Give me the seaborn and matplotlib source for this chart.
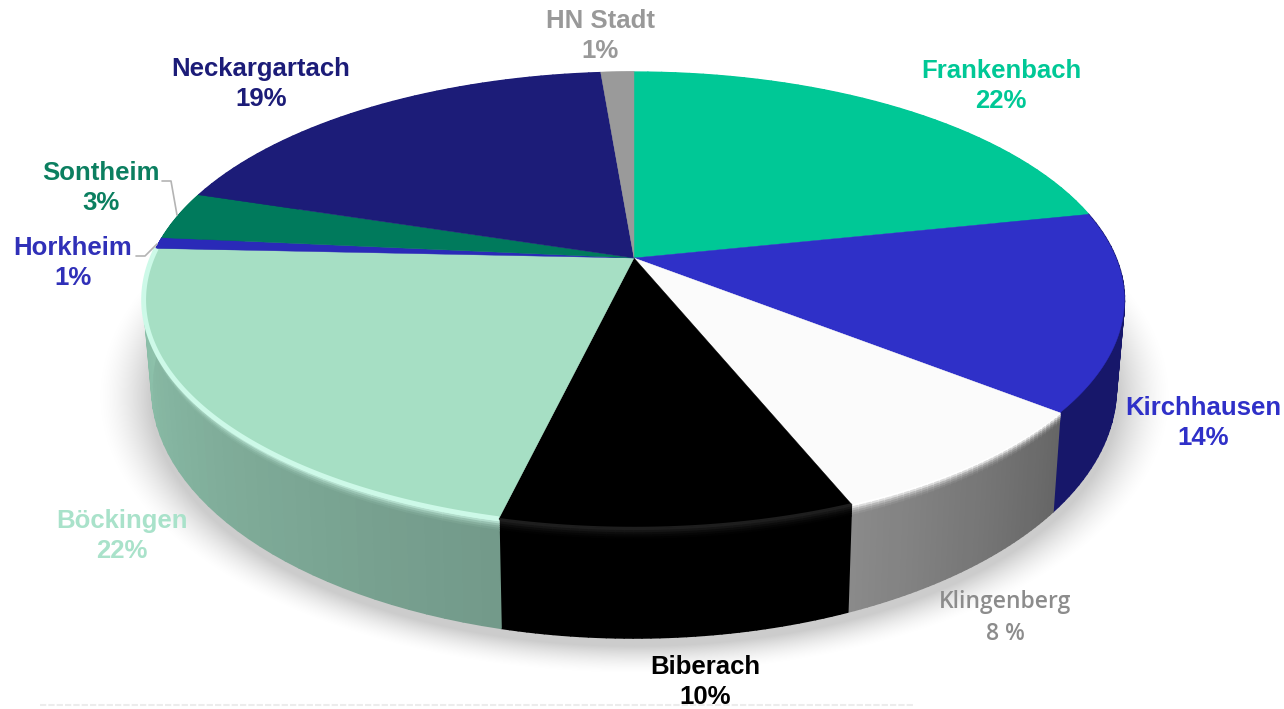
import numpy as np
import matplotlib
matplotlib.use("Agg")
import matplotlib.pyplot as plt
from matplotlib.collections import PolyCollection
import seaborn as sns

# clockwise from 12 o'clock
districts = ["Frankenbach", "Kirchhausen", "Klingenberg", "Biberach", "Böckingen",
             "Horkheim", "Sontheim", "Neckargartach", "HN Stadt"]
shares = [21.7, 14.0, 8.2, 9.8, 22.0, 0.8, 3.4, 18.8, 1.3]
share_labels = ["22%", "14%", "8 %", "10%", "22%", "1%", "3%", "19%", "1%"]

face_colors = ["#00c896", "#2f30c8", "#fbfbfb", "#000000", "#a6dfc4",
               "#2a2ab8", "#007a5c", "#1c1c78", "#9a9a9a"]
wall_near = ["#00c896", "#17176a", "#666666", "#000000", "#739a8a",
             "#2a2ab8", "#007a5c", "#1c1c78", "#9a9a9a"]
wall_far = ["#00c896", "#17176a", "#8a8a8a", "#000000", "#8fc4ad",
            "#2a2ab8", "#007a5c", "#1c1c78", "#9a9a9a"]
rim_colors = ["#00c896", "#17176a", "#ffffff", "#1e1e1e", "#cdf9e8",
              "#2a2ab8", "#007a5c", "#1c1c78", "#9a9a9a"]
rim_widths = [0, 0, 0, 1.2, 3.5, 0, 0, 0, 0]
text_colors = ["#00c896", "#2f30c8", "#8c8c8c", "#000000", "#a9e2ca",
               "#3030b8", "#0b7f60", "#1c1c78", "#999999"]

label_x = [1001, 1203, 1005, 705, 122, 73, 101, 261, 600]
label_y = [86, 423, 618, 682, 536, 263, 188, 84, 36]

# perspective of the disc, in pixels
CX = 634
TOP_Y, TOP_A, TOP_B = 258, 482, 220
BOT_Y, BOT_A, BOT_B = 342, 474, 241.5
TILT = 0.184


def project(theta, y0, a, b):
    u, v = np.sin(theta), np.cos(theta)
    w = 1 + TILT * v
    return CX + a * u / w, y0 - b * v / w


def draw_shadow(ax):
    xx, yy = np.meshgrid(np.arange(0, 1284), np.arange(0, 709))
    r = np.sqrt(((xx - CX) / 484) ** 2 + ((yy - 396) / 250) ** 2)
    dist = (r - 1) * 300
    alpha = np.clip(1 - dist / 34, 0, 1) ** 1.6 * 0.2
    img = np.zeros(xx.shape + (4,))
    img[..., 3] = alpha
    ax.imshow(img, extent=(0, 1284, 709, 0), zorder=1, interpolation="bilinear")


def draw_walls(ax, edges):
    rows = [0, 0.03, 0.05, 0.07, 0.09, 0.11, 1]
    mixes = [0, 0.3, 0.6, 0.8, 0.93, 1]
    for i in range(len(shares)):
        steps = np.linspace(edges[i], edges[i + 1], 41)
        shade = sns.blend_palette([wall_near[i], wall_far[i]], 40)
        rim = np.array(matplotlib.colors.to_rgb(rim_colors[i]))
        polys, colors = [], []
        for j in range(40):
            x0, y0 = project(steps[j], TOP_Y, TOP_A, TOP_B)
            x1, y1 = project(steps[j + 1], TOP_Y, TOP_A, TOP_B)
            x2, y2 = project(steps[j + 1], BOT_Y, BOT_A, BOT_B)
            x3, y3 = project(steps[j], BOT_Y, BOT_A, BOT_B)
            for r in range(len(rows) - 1):
                s0, s1 = rows[r], rows[r + 1]
                polys.append([(x0 + (x3 - x0) * s0, y0 + (y3 - y0) * s0),
                              (x1 + (x2 - x1) * s0, y1 + (y2 - y1) * s0),
                              (x1 + (x2 - x1) * s1, y1 + (y2 - y1) * s1),
                              (x0 + (x3 - x0) * s1, y0 + (y3 - y0) * s1)])
                colors.append(tuple(rim * (1 - mixes[r]) + np.array(shade[j]) * mixes[r]))
        ax.add_collection(PolyCollection(polys, facecolors=colors, edgecolors=colors,
                                         linewidths=1.2, zorder=2))


def draw_faces(ax, edges):
    for i in range(len(shares)):
        steps = np.linspace(edges[i], edges[i + 1], 120)
        x, y = project(steps, TOP_Y, TOP_A, TOP_B)
        ax.fill(np.r_[CX, x], np.r_[TOP_Y, y], color=face_colors[i], lw=0.3, zorder=3)
        if rim_widths[i] > 0:
            ax.plot(x, y, color=rim_colors[i], lw=rim_widths[i], solid_capstyle="butt", zorder=3.5)


def draw_labels(ax):
    for i, name in enumerate(districts):
        if name == "Klingenberg":
            ax.text(label_x[i], label_y[i], name + "\n" + share_labels[i], color=text_colors[i],
                    family="Open Sans", weight="semibold", fontsize=16.5,
                    ha="center", va="center", linespacing=1.45, zorder=5)
        else:
            ax.text(label_x[i], label_y[i], name + "\n" + share_labels[i], color=text_colors[i],
                    family="Liberation Sans", weight="bold", fontsize=18.5,
                    ha="center", va="center", linespacing=1.27, zorder=5)
    # leader lines for the two thin slices
    ax.plot([162, 171, 177], [181, 181, 215], color="#b4b4b4", lw=1.2, zorder=4)
    ax.plot([136, 145, 157], [256, 256, 244], color="#b4b4b4", lw=1.2, zorder=4)


def main():
    sns.set_theme(style="white")
    fig = plt.figure(figsize=(12.84, 7.09), dpi=100)
    ax = fig.add_axes([0, 0, 1, 1])

    edges = np.r_[0, np.cumsum(shares)] / np.sum(shares) * 2 * np.pi

    draw_shadow(ax)
    draw_walls(ax, edges)
    draw_faces(ax, edges)
    draw_labels(ax)

    # the cut-off footnote at the lower edge cannot be read any more
    ax.plot([40, 915], [705, 705], color="#ececec", lw=1.5, ls=(0, (3, 1)), zorder=1)

    ax.set_xlim(0, 1284)
    ax.set_ylim(709, 0)
    ax.set_aspect("auto")
    ax.axis("off")
    plt.savefig("out.png", dpi=100)
    plt.close()


if __name__ == "__main__":
    main()
